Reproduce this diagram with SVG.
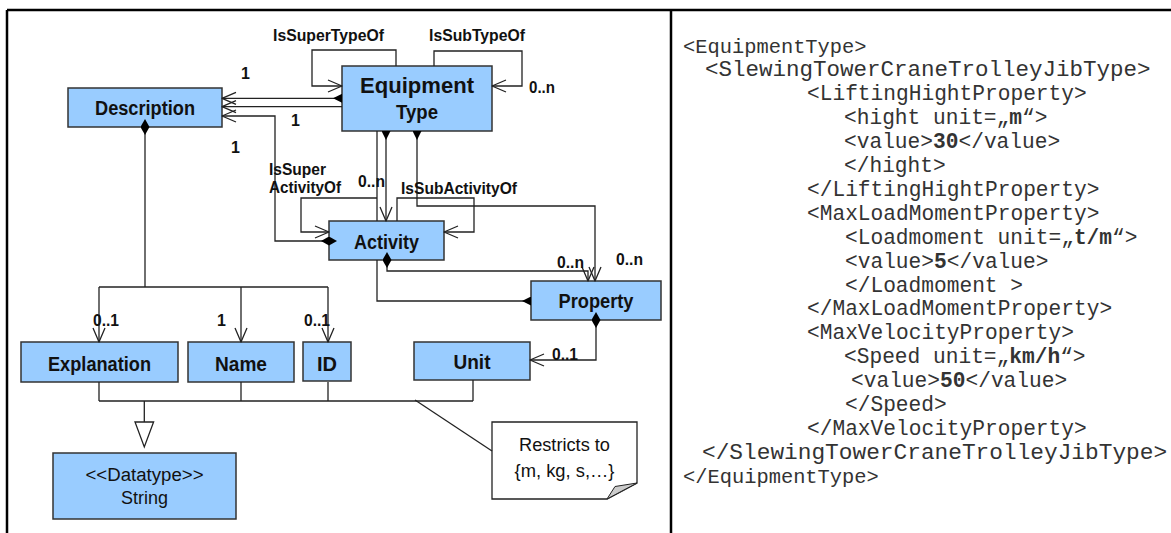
<svg xmlns="http://www.w3.org/2000/svg" width="1171" height="533" viewBox="0 0 1171 533">
<style>
.box{fill:#99ccff;stroke:#333;stroke-width:1.5}
.nt{font-family:"Liberation Sans",Arial,sans-serif;font-weight:bold;font-size:20px;fill:#111;text-anchor:middle}
.rt{font-family:"Liberation Sans",Arial,sans-serif;font-size:18px;fill:#111;text-anchor:middle}
.lb{font-family:"Liberation Sans",Arial,sans-serif;font-weight:bold;font-size:16px;fill:#111}
.c{fill:none;stroke:#222;stroke-width:1.3}
.code{font-family:"Liberation Mono","Courier New",monospace;fill:#333}
.frame{stroke:#000;stroke-width:2.5;fill:none}
</style>
<defs>
<marker id="arr" markerUnits="userSpaceOnUse" viewBox="0 0 16 14" markerWidth="16" markerHeight="14" refX="15" refY="7" orient="auto"><path d="M1,1 L15,7 L1,13" fill="none" stroke="#222" stroke-width="1.3" stroke-linejoin="round"/></marker>
<marker id="dia" markerUnits="userSpaceOnUse" viewBox="0 0 16 9" markerWidth="16" markerHeight="9" refX="8" refY="4.5" orient="auto"><path d="M0,4.5 L8,0 L16,4.5 L8,9 Z" fill="#000"/></marker>
<marker id="tri" markerUnits="userSpaceOnUse" viewBox="0 0 10 9" markerWidth="10" markerHeight="9" refX="0" refY="4.5" orient="auto"><path d="M0,0 L9,4.5 L0,9 Z" fill="#000"/></marker>
</defs>
<rect width="1171" height="533" fill="#fff"/>
<g id="frame">
<path class="frame" d="M7,10 L1171,10 M7,10 L7,533 M671,10 L671,533"/>
</g>
<g id="node-description"><rect class="box" x="68" y="88" width="154" height="39"/><text class="nt" x="145" y="115" textLength="100" lengthAdjust="spacingAndGlyphs">Description</text></g>
<g id="node-equipmenttype"><rect class="box" x="342" y="66" width="150" height="65"/><text class="nt" x="417" y="93" style="font-size:22px" textLength="114" lengthAdjust="spacingAndGlyphs">Equipment</text><text class="nt" x="417" y="119" textLength="42" lengthAdjust="spacingAndGlyphs">Type</text></g>
<g id="node-activity"><rect class="box" x="329" y="221" width="115" height="39"/><text class="nt" x="386.5" y="249" textLength="65" lengthAdjust="spacingAndGlyphs">Activity</text></g>
<g id="node-property"><rect class="box" x="531" y="281" width="130" height="39"/><text class="nt" x="596" y="308" textLength="75" lengthAdjust="spacingAndGlyphs">Property</text></g>
<g id="node-unit"><rect class="box" x="414" y="342" width="116" height="38"/><text class="nt" x="472" y="369" textLength="37" lengthAdjust="spacingAndGlyphs">Unit</text></g>
<g id="node-id"><rect class="box" x="303" y="342" width="48" height="39"/><text class="nt" x="327" y="370.5" textLength="20" lengthAdjust="spacingAndGlyphs">ID</text></g>
<g id="node-name"><rect class="box" x="188" y="342" width="106" height="40"/><text class="nt" x="241" y="370.5" textLength="52" lengthAdjust="spacingAndGlyphs">Name</text></g>
<g id="node-explanation"><rect class="box" x="21" y="342" width="157" height="40"/><text class="nt" x="99.5" y="370.5" textLength="103" lengthAdjust="spacingAndGlyphs">Explanation</text></g>
<g id="node-string"><rect class="box" x="53" y="453" width="183" height="66"/><text class="rt" x="144.5" y="481" textLength="118" lengthAdjust="spacingAndGlyphs">&lt;&lt;Datatype&gt;&gt;</text><text class="rt" x="144.5" y="504" textLength="47" lengthAdjust="spacingAndGlyphs">String</text></g>
<g id="node-note"><path d="M492,422 L637,422 L637,483 L607,499 L492,499 Z" fill="#fff" stroke="#222" stroke-width="1.3"/><path d="M607,499 L615,486.5 L637,483 Z" fill="#cccccc" stroke="#222" stroke-width="1"/><text class="rt" x="564.5" y="450.5" textLength="91" lengthAdjust="spacingAndGlyphs">Restricts to</text><text class="rt" x="564.5" y="477" textLength="100" lengthAdjust="spacingAndGlyphs">{m, kg, s,…}</text></g>
<g id="connectors">
<path class="c" d="M342,98.3 L222,98.3" marker-start="url(#tri)" marker-end="url(#arr)"/>
<path class="c" d="M342,106.7 L222,106.7" marker-end="url(#arr)"/>
<path class="c" d="M329,241 L275,241 L275,116 L222,116" marker-start="url(#dia)" marker-end="url(#arr)"/>
<path class="c" d="M396,66 L396,50 L312,50 L312,86 L342,86" marker-end="url(#arr)"/>
<path class="c" d="M434,66 L434,51 L522,51 L522,86 L492,86" marker-end="url(#arr)"/>
<path class="c" d="M377,131 L377,221"/>
<path class="c" d="M386,131 L386,221" marker-start="url(#tri)" marker-end="url(#arr)"/>
<path class="c" d="M377,198 L301,198 L301,232 L329,232" marker-end="url(#arr)"/>
<path class="c" d="M397,221 L397,198 L474,198 L474,232 L444,232" marker-end="url(#arr)"/>
<path class="c" d="M417,131 L417,206 L595,206 L595,281" marker-start="url(#tri)" marker-end="url(#arr)"/>
<path class="c" d="M387,260 L387,271 L588,271 L588,281" marker-start="url(#dia)" marker-end="url(#arr)"/>
<path class="c" d="M531,301 L377,301 L377,260" marker-start="url(#tri)"/>
<path class="c" d="M596,320 L596,360 L530,360" marker-start="url(#dia)" marker-end="url(#arr)"/>
<path class="c" d="M145,127 L145,287" marker-start="url(#dia)"/>
<path class="c" d="M99,287 L328,287"/>
<path class="c" d="M99,287 L99,342" marker-end="url(#arr)"/>
<path class="c" d="M241,287 L241,342" marker-end="url(#arr)"/>
<path class="c" d="M328,287 L328,342" marker-end="url(#arr)"/>
<path class="c" d="M99,382 L99,401 M241,382 L241,401 M328,382 L328,401 M473,380 L473,401 M99,401 L473,401 M144.3,401 L144.3,422"/>
<path d="M135,422 L153.6,422 L144.3,447 Z" fill="#fff" stroke="#222" stroke-width="1.3"/>
<path class="c" d="M415,400 L492,451"/>
<text class="lb" x="273" y="41" textLength="111" lengthAdjust="spacingAndGlyphs">IsSuperTypeOf</text>
<text class="lb" x="429" y="41" textLength="96" lengthAdjust="spacingAndGlyphs">IsSubTypeOf</text>
<text class="lb" x="529" y="93" textLength="26" lengthAdjust="spacingAndGlyphs">0..n</text>
<text class="lb" x="241" y="79">1</text>
<text class="lb" x="291" y="126">1</text>
<text class="lb" x="231" y="153">1</text>
<text class="lb" x="269" y="175" textLength="57" lengthAdjust="spacingAndGlyphs">IsSuper</text>
<text class="lb" x="269" y="193" textLength="72" lengthAdjust="spacingAndGlyphs">ActivityOf</text>
<text class="lb" x="358" y="187" textLength="27" lengthAdjust="spacingAndGlyphs">0..n</text>
<text class="lb" x="401" y="194" textLength="116" lengthAdjust="spacingAndGlyphs">IsSubActivityOf</text>
<text class="lb" x="557" y="268" textLength="27" lengthAdjust="spacingAndGlyphs">0..n</text>
<text class="lb" x="616" y="265" textLength="27" lengthAdjust="spacingAndGlyphs">0..n</text>
<text class="lb" x="552" y="360" textLength="26" lengthAdjust="spacingAndGlyphs">0..1</text>
<text class="lb" x="93" y="326" textLength="26" lengthAdjust="spacingAndGlyphs">0..1</text>
<text class="lb" x="217" y="326">1</text>
<text class="lb" x="304" y="326" textLength="26" lengthAdjust="spacingAndGlyphs">0..1</text>
</g>
<g id="xml-code" class="code">
<text x="683" y="52.5" font-size="20.4">&lt;EquipmentType&gt;</text>
<text x="705" y="76.4" font-size="22.5">&lt;SlewingTowerCraneTrolleyJibType&gt;</text>
<text x="807" y="100.3" font-size="21.2">&lt;LiftingHightProperty&gt;</text>
<text x="844" y="124.2" font-size="21.2">&lt;hight unit=„<tspan font-weight="bold">m</tspan>“&gt;</text>
<text x="844" y="148.1" font-size="21.2">&lt;value&gt;<tspan font-weight="bold">30</tspan>&lt;/value&gt;</text>
<text x="844" y="172" font-size="21.2">&lt;/hight&gt;</text>
<text x="807" y="195.9" font-size="21.2">&lt;/LiftingHightProperty&gt;</text>
<text x="807" y="219.8" font-size="21.2">&lt;MaxLoadMomentProperty&gt;</text>
<text x="845" y="243.7" font-size="21.2">&lt;Loadmoment unit=„<tspan font-weight="bold">t/m</tspan>“&gt;</text>
<text x="845" y="267.6" font-size="21.2">&lt;value&gt;<tspan font-weight="bold">5</tspan>&lt;/value&gt;</text>
<text x="845" y="291.5" font-size="21.2">&lt;/Loadmoment &gt;</text>
<text x="807" y="315.4" font-size="21.2">&lt;/MaxLoadMomentProperty&gt;</text>
<text x="807" y="339.3" font-size="21.2">&lt;MaxVelocityProperty&gt;</text>
<text x="844" y="363.2" font-size="21.2">&lt;Speed unit=„<tspan font-weight="bold">km/h</tspan>“&gt;</text>
<text x="851" y="387.1" font-size="21.2">&lt;value&gt;<tspan font-weight="bold">50</tspan>&lt;/value&gt;</text>
<text x="845" y="411" font-size="21.2">&lt;/Speed&gt;</text>
<text x="807" y="434.9" font-size="21.2">&lt;/MaxVelocityProperty&gt;</text>
<text x="702" y="458.8" font-size="22.8">&lt;/SlewingTowerCraneTrolleyJibType&gt;</text>
<text x="683" y="482.7" font-size="20.4">&lt;/EquipmentType&gt;</text>
</g>
</svg>
